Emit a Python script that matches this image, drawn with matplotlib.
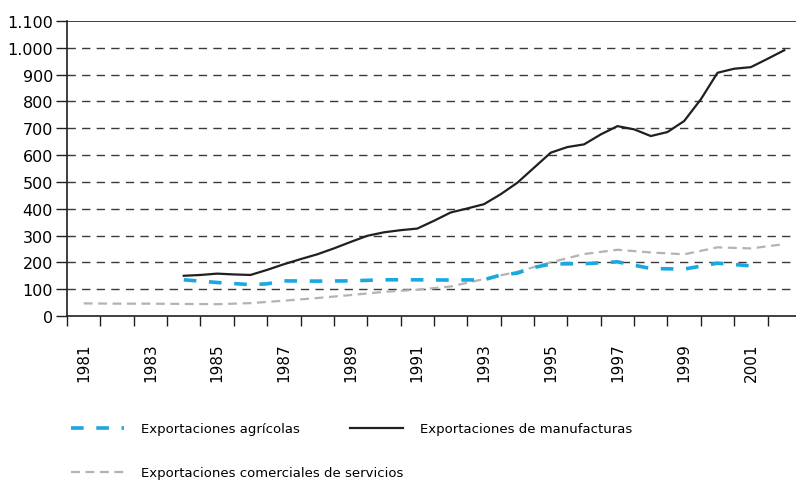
import matplotlib
matplotlib.use("Agg")
import matplotlib.pyplot as plt
from matplotlib.ticker import FuncFormatter, FixedLocator

# Exportaciones de manufacturas (lecturas semestrales)
years_manuf = [1984.0, 1984.5, 1985.0, 1985.5, 1986.0, 1986.5, 1987.0, 1987.5,
               1988.0, 1988.5, 1989.0, 1989.5, 1990.0, 1990.5, 1991.0, 1991.5,
               1992.0, 1992.5, 1993.0, 1993.5, 1994.0, 1994.5, 1995.0, 1995.5,
               1996.0, 1996.5, 1997.0, 1997.5, 1998.0, 1998.5, 1999.0, 1999.5,
               2000.0, 2000.5, 2001.0, 2001.5, 2002.0]
manuf = [150, 153, 158, 155, 153, 172, 193, 212,
         230, 252, 276, 299, 312, 320, 326, 355,
         386, 401, 417, 454, 497, 553, 609, 630,
         640, 677, 708, 696, 671, 686, 727, 808,
         907, 922, 928, 959, 991]

# Exportaciones agricolas
years_agr = [1984, 1985, 1986, 1986.5, 1987, 1988, 1989, 1990, 1991, 1992, 1993,
             1993.5, 1994, 1994.5, 1995, 1996, 1997, 1998, 1999, 2000, 2001]
agr = [135, 125, 117, 120, 131, 130, 131, 135, 135, 134, 135,
       153, 160, 181, 194, 195, 202, 177, 175, 197, 187]

# Exportaciones comerciales de servicios
years_serv = [1981, 1982, 1983, 1984, 1985, 1986, 1987, 1988, 1989, 1990, 1991,
              1992, 1993, 1994, 1995, 1996, 1997, 1998, 1999, 2000, 2001, 2002]
serv = [47, 46, 46, 45, 44, 48, 57, 67, 78, 90, 98,
        110, 138, 165, 200, 231, 247, 237, 230, 256, 252, 268]

year_labels = list(range(1981, 2002, 2))
year_edges = [y + 0.5 for y in range(1980, 2002)]

plt.rcParams['font.family'] = ['DejaVu Sans']

fig = plt.figure(figsize=(7.96, 4.81), dpi=100)
ax = fig.add_axes([67 / 796, 1 - 317 / 481, 729 / 796, 295 / 481])

l_serv, = ax.plot(years_serv, serv, color='#b3b3b3', lw=1.6, dashes=(4, 2.5),
                  label='Exportaciones comerciales de servicios', zorder=3)
l_agr, = ax.plot(years_agr, agr, color='#1aa8e0', lw=2.6, dashes=(3.5, 3.5),
                 label='Exportaciones agrícolas', zorder=4)
l_man, = ax.plot(years_manuf, manuf, color='#231f20', lw=1.6,
                 label='Exportaciones de manufacturas', zorder=5)

ax.set_xlim(1980.5, 1980.5 + 729 / 33.36)
ax.set_ylim(0, 1100)

for v in range(100, 1001, 100):
    ax.axhline(v, color='#3a3a3a', lw=1.0, dashes=(6, 4.5), zorder=1)
ax.axhline(1100, color='#231f20', lw=1.2, zorder=1)

ax.set_yticks(range(0, 1101, 100))
ax.yaxis.set_major_formatter(FuncFormatter(lambda v, p: f"{v:,.0f}".replace(",", ".")))
ax.tick_params(axis='y', length=8, width=1, color='#231f20', labelsize=11.5, pad=2)

ax.xaxis.set_major_locator(FixedLocator(year_labels))
ax.xaxis.set_minor_locator(FixedLocator(year_edges))
ax.set_xticklabels([str(y) for y in year_labels], rotation=90, fontsize=11)
ax.tick_params(axis='x', which='major', length=0, pad=19)
ax.tick_params(axis='x', which='minor', length=7, width=1, color='#231f20')

for s in ['top', 'right']:
    ax.spines[s].set_visible(False)
for s in ['left', 'bottom']:
    ax.spines[s].set_color('#231f20')
    ax.spines[s].set_linewidth(1.2)

leg_kw = dict(frameon=False, loc='center left', fontsize=9.5,
              handlelength=4.0, handletextpad=1.3, borderpad=0, borderaxespad=0)
fig.legend([l_agr, l_man], [l_agr.get_label(), l_man.get_label()], ncol=2,
           bbox_to_anchor=(71 / 796, 1 - 430 / 481), columnspacing=3.8, **leg_kw)
fig.legend([l_serv], [l_serv.get_label()],
           bbox_to_anchor=(71 / 796, 1 - 474 / 481), **leg_kw)

fig.savefig('out.png', dpi=100)
